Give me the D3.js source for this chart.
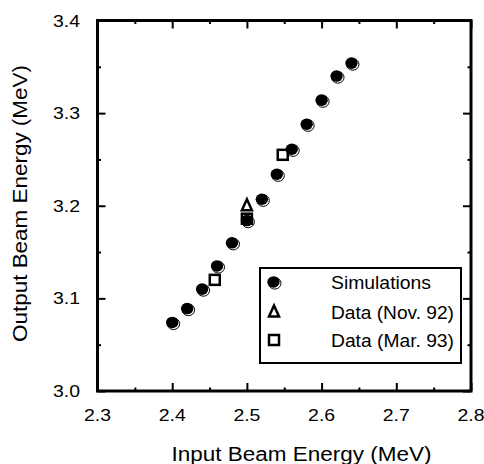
<!DOCTYPE html>
<html>
<head>
<meta charset="utf-8">
<script src="https://cdn.jsdelivr.net/npm/d3@7"></script>
<style>
  html, body { margin: 0; padding: 0; background: #fff; }
  svg { display: block; }
  text { font-family: "Liberation Sans", Arial, sans-serif; fill: #000; }
</style>
</head>
<body>
<svg id="chart" width="484" height="464"></svg>
<script>
// ---- data ----
const simX = [2.40, 2.42, 2.44, 2.46, 2.48, 2.50, 2.52, 2.54, 2.56, 2.58, 2.60, 2.62, 2.64];
const simY = [3.074, 3.089, 3.110, 3.135, 3.160, 3.184, 3.207, 3.234, 3.261, 3.288, 3.314, 3.340, 3.354];
const novX = [2.50];
const novY = [3.200];
const marX = [2.457, 2.50, 2.548];
const marY = [3.120, 3.186, 3.255];
const xTicks = [2.3, 2.4, 2.5, 2.6, 2.7, 2.8];
const yTicks = [3.0, 3.1, 3.2, 3.3, 3.4];
const xMinor = [2.35, 2.45, 2.55, 2.65, 2.75];
const yMinor = [3.05, 3.15, 3.25, 3.35];
const legendLabels = ["Simulations", "Data (Nov. 92)", "Data (Mar. 93)"];
const xTitle = "Input Beam Energy (MeV)";
const yTitle = "Output Beam Energy (MeV)";

// ---- layout ----
const L = 97.5, R = 471, T = 20.5, B = 391;
const svg = d3.select("#chart");
const x = d3.scaleLinear().domain([2.3, 2.8]).range([L, R]);
const y = d3.scaleLinear().domain([3.0, 3.4]).range([B, T]);

const fmt = d3.format(".1f");
const tickFont = 17;

// inner ticks via d3 axes
function addAxis(axis, transform) {
  const g = svg.append("g").attr("transform", transform).call(axis);
  g.select(".domain").remove();
  g.selectAll(".tick line").attr("stroke", "#000").attr("stroke-width", 2);
  g.selectAll("text").remove();
  return g;
}
// major
addAxis(d3.axisBottom(x).tickValues(xTicks).tickSize(-8), `translate(0,${B})`);
addAxis(d3.axisTop(x).tickValues(xTicks).tickSize(-8), `translate(0,${T})`);
addAxis(d3.axisLeft(y).tickValues(yTicks).tickSize(-8), `translate(${L},0)`);
addAxis(d3.axisRight(y).tickValues(yTicks).tickSize(-8), `translate(${R},0)`);
// minor
addAxis(d3.axisBottom(x).tickValues(xMinor).tickSize(-3.5), `translate(0,${B})`);
addAxis(d3.axisTop(x).tickValues(xMinor).tickSize(-3.5), `translate(0,${T})`);
addAxis(d3.axisLeft(y).tickValues(yMinor).tickSize(-3.5), `translate(${L},0)`);
addAxis(d3.axisRight(y).tickValues(yMinor).tickSize(-3.5), `translate(${R},0)`);

// frame
svg.append("rect")
  .attr("x", L).attr("y", T).attr("width", R - L).attr("height", B - T)
  .attr("fill", "none").attr("stroke", "#000").attr("stroke-width", 3);

// tick labels
svg.append("g").selectAll("text").data(xTicks).join("text")
  .attr("x", d => x(d)).attr("y", 421)
  .attr("text-anchor", "middle").attr("font-size", tickFont)
  .attr("textLength", 27).attr("lengthAdjust", "spacingAndGlyphs")
  .text(d => fmt(d));
svg.append("g").selectAll("text").data(yTicks).join("text")
  .attr("x", 80).attr("y", d => y(d) + 6)
  .attr("text-anchor", "end").attr("font-size", tickFont)
  .attr("textLength", 27).attr("lengthAdjust", "spacingAndGlyphs")
  .text(d => fmt(d));

// axis titles
svg.append("text")
  .attr("x", 301.5).attr("y", 460.5)
  .attr("text-anchor", "middle").attr("font-size", 20)
  .attr("textLength", 260).attr("lengthAdjust", "spacingAndGlyphs")
  .text(xTitle);
svg.append("text")
  .attr("transform", `translate(27,203.5) rotate(-90)`)
  .attr("text-anchor", "middle").attr("font-size", 20)
  .attr("textLength", 277).attr("lengthAdjust", "spacingAndGlyphs")
  .text(yTitle);

// markers
function simMarker(g, cx, cy) {
  g.append("ellipse").attr("cx", cx + 1.3).attr("cy", cy + 1.3).attr("rx", 6.2).attr("ry", 5.8)
    .attr("fill", "#fff").attr("stroke", "#000").attr("stroke-width", 1);
  g.append("ellipse").attr("cx", cx).attr("cy", cy).attr("rx", 6.2).attr("ry", 5.8)
    .attr("fill", "#000");
}
function triMarker(g, cx, cy) {
  const h = 11, w = 10;
  g.append("path")
    .attr("d", `M${cx},${cy - h * 0.6} L${cx + w / 2},${cy + h * 0.4} L${cx - w / 2},${cy + h * 0.4} Z`)
    .attr("fill", "none").attr("stroke", "#000").attr("stroke-width", 2.5).attr("stroke-linejoin", "miter");
}
function sqMarker(g, cx, cy) {
  g.append("rect").attr("x", cx - 5).attr("y", cy - 5).attr("width", 10).attr("height", 10)
    .attr("fill", "none").attr("stroke", "#000").attr("stroke-width", 2.5);
}

const pts = svg.append("g");
simX.forEach((v, i) => simMarker(pts, x(v), y(simY[i])));
novX.forEach((v, i) => triMarker(pts, x(v), y(novY[i])));
marX.forEach((v, i) => sqMarker(pts, x(v), y(marY[i])));

// legend
const lg = svg.append("g");
lg.append("rect").attr("x", 260).attr("y", 268).attr("width", 201).attr("height", 95)
  .attr("fill", "#fff").attr("stroke", "#000").attr("stroke-width", 2);
const rowsY = [282, 312, 340];
simMarker(lg, 273.5, rowsY[0]);
triMarker(lg, 274, rowsY[1]);
sqMarker(lg, 274, rowsY[2]);
const lens = [100, 123, 123];
legendLabels.forEach((t, i) => {
  lg.append("text").attr("x", 331).attr("y", rowsY[i] + 6.5)
    .attr("font-size", 17.5)
    .attr("textLength", lens[i]).attr("lengthAdjust", "spacingAndGlyphs")
    .text(t);
});
</script>
</body>
</html>
